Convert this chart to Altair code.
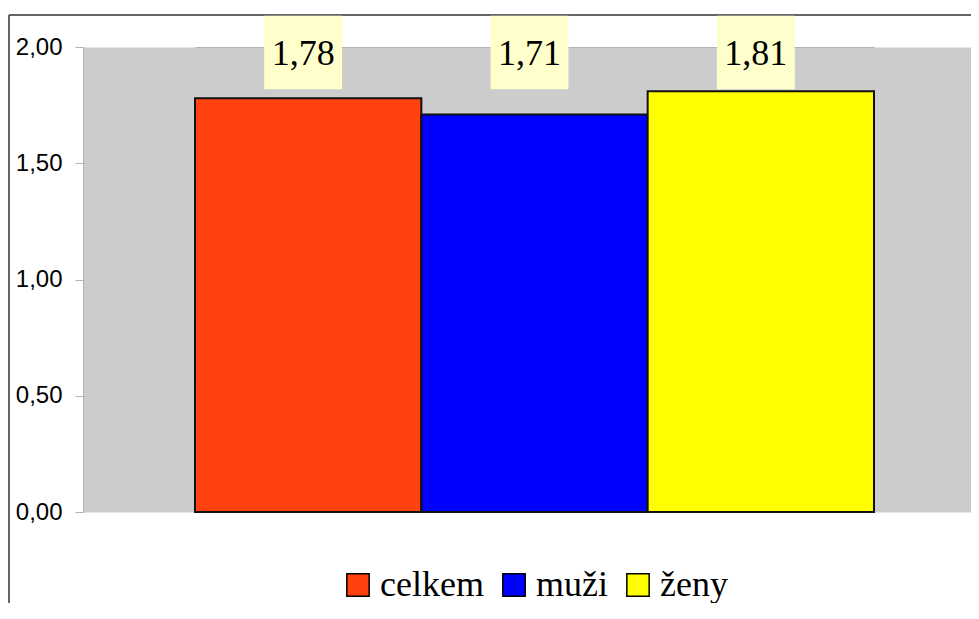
import altair as alt
import pandas as pd

series = ["celkem", "muži", "ženy"]
values = [1.78, 1.71, 1.81]
colors = ["#FF420E", "#0000FF", "#FFFF00"]
y_ticks = [0, 0.5, 1.0, 1.5, 2.0]

df = pd.DataFrame({"series": series, "value": values})
one = alt.Data(values=[{"k": 1}])

x_enc = alt.X("series:N", sort=series, axis=None,
              scale=alt.Scale(range=[112, 791], paddingInner=0, paddingOuter=0))
y_enc = alt.Y("value:Q", scale=alt.Scale(domain=[0, 2], nice=False, zero=True),
              axis=alt.Axis(values=y_ticks, title=None, grid=True,
                            gridColor="#B3B3B3", gridWidth=1,
                            tickColor="#B3B3B3", tickSize=8, tickWidth=1,
                            domainColor="#B3B3B3", domainWidth=1,
                            labelFont="Liberation Sans", labelFontSize=24,
                            labelColor="black", labelPadding=13,
                            labelExpr="replace(format(datum.value, '.2f'), '.', ',')"))

frame_top = alt.Chart(one).mark_rule(color="#333333", strokeWidth=1.5).encode(
    x=alt.value(-74), x2=alt.value(900), y=alt.value(-32))
frame_left = alt.Chart(one).mark_rule(color="#333333", strokeWidth=1.5).encode(
    x=alt.value(-74), y=alt.value(-32), y2=alt.value(600))

bars = alt.Chart(df).mark_bar(stroke="#111111", strokeWidth=2, opacity=1).encode(
    x=x_enc,
    y=y_enc,
    color=alt.Color("series:N", sort=series,
                    scale=alt.Scale(domain=series, range=colors),
                    legend=alt.Legend(title=None, orient="none", direction="horizontal",
                                      legendX=257, legendY=520,
                                      symbolType="square", symbolSize=500,
                                      symbolStrokeColor="black", symbolStrokeWidth=1.5,
                                      symbolOpacity=1,
                                      labelFont="Liberation Serif", labelFontSize=36,
                                      labelColor="black", labelOffset=4,
                                      columnPadding=12, labelLimit=400)),
)

box_shape = "M-1.06,-1L1.06,-1L1.06,1L-1.06,1Z"
boxes = alt.Chart(df).mark_point(shape=box_shape, filled=True, fill="#FFFFCC",
                                 opacity=1, strokeWidth=0, size=5400, xOffset=-5).encode(
    x=x_enc, y=alt.value(5.5))

texts = alt.Chart(df).transform_calculate(
    label="replace(format(datum.value, '.2f'), '.', ',')"
).mark_text(font="Liberation Serif", fontSize=36, color="black",
            align="center", baseline="middle", xOffset=-5).encode(
    x=x_enc, y=alt.value(7), text="label:N")

chart = alt.layer(frame_top, frame_left, bars, boxes, texts).properties(
    width=888, height=465,
    autosize=alt.AutoSizeParams(type="none"),
    padding={"left": 75, "top": 39, "right": 0, "bottom": 91},
    background="white",
).configure_view(fill="#CCCCCC", stroke="transparent"
).configure_legend(labelFont="Liberation Serif", labelFontSize=36, labelColor="black")

chart.save("out.html", embed_options={"renderer": "svg", "actions": False})
